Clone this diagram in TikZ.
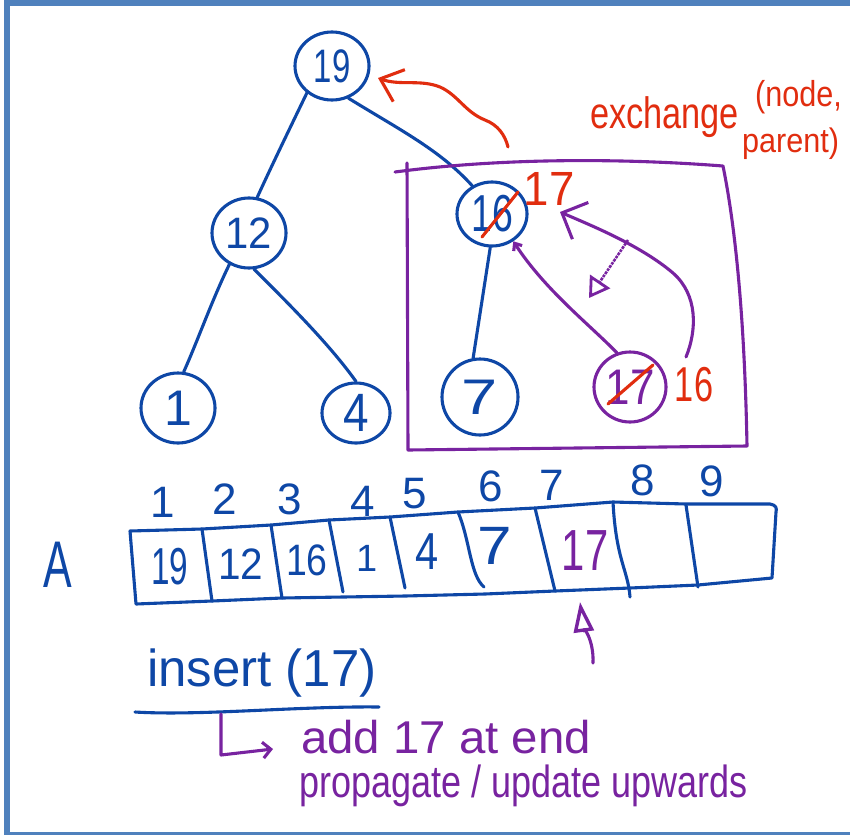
\documentclass[tikz,border=0pt]{standalone}
\usepackage{fontspec}
\setmainfont{Liberation Sans}
\usepackage{graphicx}
\usetikzlibrary{shapes.geometric,arrows.meta}
\definecolor{hblue}{RGB}{14,71,166}
\definecolor{hpurple}{RGB}{120,35,160}
\definecolor{hred}{RGB}{225,45,15}
\definecolor{frameblue}{RGB}{79,129,189}
\newcommand{\hw}[3]{{\fontsize{#1}{#1}\selectfont\scalebox{#2}[1]{#3}}}
\begin{document}
\begin{tikzpicture}[x=1pt,y=-1pt,
  tnode/.style={draw=hblue, ellipse, line width=3.1pt, inner sep=0pt, text=hblue},
  pnode/.style={draw=hpurple, ellipse, line width=3.1pt, inner sep=0pt, text=hpurple},
  tedge/.style={draw=hblue, line width=3.1pt, line cap=round, line join=round},
  pline/.style={draw=hpurple, line width=3.1pt, line cap=round, line join=round},
  rline/.style={draw=hred, line width=3.1pt, line cap=round, line join=round},
  lab/.style={inner sep=0pt},
]
\useasboundingbox (0,0) rectangle (850,835);
\fill[white] (0,0) rectangle (850,835);
\fill[frameblue] (4,0) rectangle (10,835);
\fill[frameblue] (4,0) rectangle (850,6);
\fill[frameblue] (4,832) rectangle (850,835);

% ---- tree nodes
\node[tnode, minimum width=74pt, minimum height=68pt] (n19) at (332,66) {\hw{47}{0.7}{19}};
\node[tnode, minimum width=74pt, minimum height=70pt] (n12) at (249,233) {\hw{44}{0.95}{12}};
\node[tnode, minimum width=74pt, minimum height=70pt] (n1) at (178,408) {\hw{50}{1}{1}};
\node[tnode, minimum width=68pt, minimum height=60pt] (n4) at (356,413) {\hw{54}{0.85}{4}};
\node[tnode, minimum width=70pt, minimum height=64pt] (n16) at (492,214) {\hw{52}{0.72}{16}};
\node[tnode, minimum width=76pt, minimum height=76pt] (n7) at (480,397) {\hw{50}{1.3}{7}};
\node[pnode, minimum width=72pt, minimum height=70pt] (n17) at (630,387) {\hw{50}{0.88}{17}};

% ---- tree edges
\draw[tedge] (n19.227) .. controls (290,128) and (272,165) .. (n12.77);
\draw[tedge] (n19.-63) .. controls (400,130) and (440,150) .. (n16.125);
\draw[tedge] (n12.238) .. controls (212,300) and (198,340) .. (n1.81);
\draw[tedge] (n12.-82) .. controls (290,305) and (330,345) .. (n4.90);
\draw[tedge] (n16.-93) -- (n7.100);

% ---- purple box
\draw[pline] (395,172) .. controls (500,158) and (620,158) .. (723,166)
  .. controls (738,240) and (745,340) .. (747,446) -- (408,450) -- (407,163);

% ---- exchange marks
\draw[rline] (482,237) -- (518,192);
\draw[rline] (608,404) -- (653,365);
\node[lab, text=hred] (r17) at (549,189) {\hw{48}{0.95}{17}};
\node[lab, text=hred] (r16) at (694,385) {\hw{49}{0.7}{16}};

% purple arrows inside box
\draw[pline, -{Straight Barb[length=6pt,width=10pt]}] (n17.111) .. controls (590,325) and (545,290) .. (n16.-52);
\coordinate (bigs) at (686,357);
\coordinate (bigt) at (560,212);
\draw[pline, -{Straight Barb[length=20pt,width=40pt]}] (bigs) .. controls (697,330) and (698,295) .. (673,273)
  .. controls (640,245) and (590,225) .. (bigt);
\coordinate (ds) at (628,240);
\coordinate (de) at (589,298);
\draw[hpurple, line width=2.6pt, densely dash dot, -{Triangle[open,length=20pt,width=24pt,line width=2.8pt]}] (ds) -- (de);

% red arrow and text
\coordinate (rs) at (508,147);
\coordinate (rt) at (378,78);
\draw[rline, -{Straight Barb[length=20pt,width=34pt]}] (rs) .. controls (505,135) and (498,125) .. (485,120)
  .. controls (465,112) and (458,95) .. (440,87) .. controls (420,79) and (400,86) .. (rt);
\node[lab, text=hred, anchor=base west] (ex1) at (590,128) {\hw{44}{0.78}{exchange}};
\node[lab, text=hred, anchor=base west, text depth=0pt] (ex2) at (755,106) {\hw{36}{0.85}{(node,}};
\node[lab, text=hred, anchor=base west, text height=24pt] (ex3) at (742,152) {\hw{34}{0.9}{parent)}};

% ---- array
\node[lab, text=hblue] (lA) at (58,565) {\hw{66}{0.65}{A}};
\draw[tedge] (130,531) -- (202,529) -- (271,525) -- (329,520) -- (390,517) -- (458,512) -- (535,508)
  -- (613,502) -- (686,504) -- (770,504) .. controls (776,505) and (777,508) .. (776,512) -- (772,578) -- (698,585) -- (630,588)
  -- (555,591) -- (485,594) -- (405,596) -- (343,597) -- (282,598) -- (212,601) -- (136,604) -- cycle;
\draw[tedge] (202,529) -- (212,601);
\draw[tedge] (271,525) -- (282,598);
\draw[tedge] (329,520) -- (343,592);
\draw[tedge] (390,517) -- (405,588);
\draw[tedge] (458,512) .. controls (470,540) and (470,575) .. (484,587);
\draw[tedge] (535,508) -- (555,591);
\draw[tedge] (613,502) .. controls (616,560) and (628,570) .. (630,597);
\draw[tedge] (686,505) -- (698,587);

\node[lab, text=hblue] (a1) at (170,567) {\hw{52}{0.64}{19}};
\node[lab, text=hblue] (a2) at (241,564) {\hw{44}{0.92}{12}};
\node[lab, text=hblue] (a3) at (307,560) {\hw{44}{0.85}{16}};
\node[lab, text=hblue] (a4) at (367,558) {\hw{38}{1}{1}};
\node[lab, text=hblue] (a5) at (427,552) {\hw{52}{0.8}{4}};
\node[lab, text=hblue] (a6) at (495,546) {\hw{54}{1.15}{7}};
\node[lab, text=hpurple] (a7) at (585,551) {\hw{58}{0.72}{17}};

\node[lab, text=hblue] (i1) at (163,502) {\hw{44}{1}{1}};
\node[lab, text=hblue] (i2) at (225,499) {\hw{44}{1}{2}};
\node[lab, text=hblue] (i3) at (290,499) {\hw{44}{1}{3}};
\node[lab, text=hblue] (i4) at (363,501) {\hw{44}{1}{4}};
\node[lab, text=hblue] (i5) at (415,494) {\hw{44}{1}{5}};
\node[lab, text=hblue] (i6) at (491,486) {\hw{44}{1}{6}};
\node[lab, text=hblue] (i7) at (552,485) {\hw{44}{1}{7}};
\node[lab, text=hblue] (i8) at (643,480) {\hw{44}{1}{8}};
\node[lab, text=hblue] (i9) at (712,481) {\hw{44}{1}{9}};

% arrow under array
\coordinate (at) at (580,602);
\coordinate (as) at (593,663);
\draw[pline, -{Triangle[open,length=30pt,width=20pt,line width=3.4pt]}] (as) .. controls (594,640) and (583,625) .. (at);

% ---- insert text
\node[lab, text=hblue, anchor=base west] (ins) at (147,686) {\hw{52}{0.98}{insert (17)}};
\draw[tedge] (135,712) .. controls (200,716) and (300,706) .. (379,707);
\coordinate (ls) at (221,714);
\coordinate (lc) at (221,755);
\coordinate (le) at (273,749);
\draw[pline, -{Straight Barb[length=8pt,width=16pt]}] (ls) -- (lc) -- (le);
\node[lab, text=hpurple, anchor=base west, text depth=0pt] (t1) at (301,753) {\hw{46}{1.03}{add 17 at end}};
\node[lab, text=hpurple, anchor=base west, text height=26pt] (t2) at (299,797) {\hw{45}{0.8}{propagate / update upwards}};
\end{tikzpicture}
\end{document}
